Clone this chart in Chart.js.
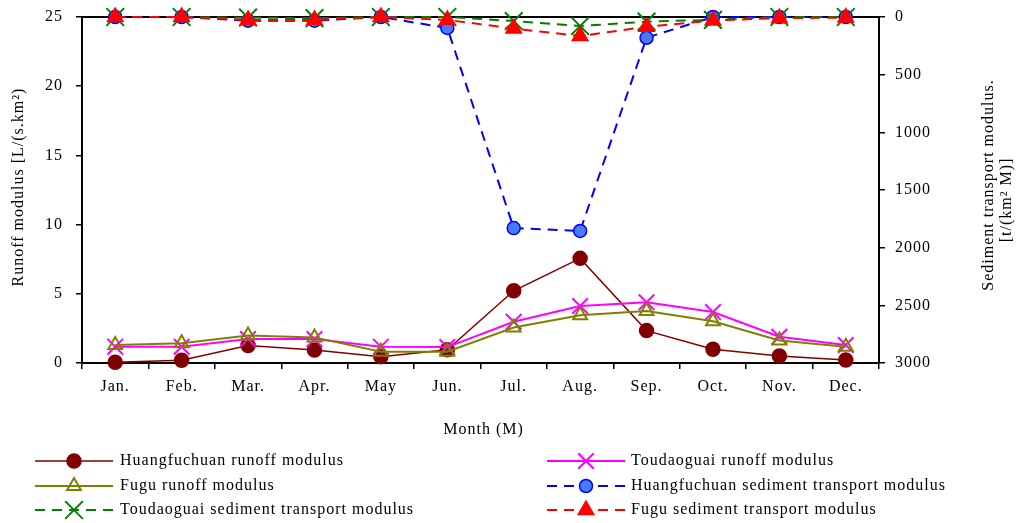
<!DOCTYPE html>
<html>
<head>
<meta charset="utf-8">
<title>Runoff and sediment transport modulus</title>
<script src="https://cdn.jsdelivr.net/npm/chart.js@4/dist/chart.umd.min.js"></script>
<style>
  html, body { margin: 0; padding: 0; background: #fff; }
  canvas { display: block; }
</style>
</head>
<body>
<canvas id="modulusChart" width="1020" height="523"></canvas>
<script>
// months on the x axis
const months = ['Jan.', 'Feb.', 'Mar.', 'Apr.', 'May', 'Jun.', 'Jul.', 'Aug.', 'Sep.', 'Oct.', 'Nov.', 'Dec.'];

// runoff modulus, L/(s.km2) - left axis
const huangfuchuanRunoff = [0.05, 0.2, 1.27, 0.94, 0.46, 0.95, 5.22, 7.56, 2.34, 0.99, 0.5, 0.22];
const toudaoguaiRunoff = [1.18, 1.18, 1.73, 1.73, 1.18, 1.15, 2.98, 4.12, 4.39, 3.68, 1.9, 1.3];
const fuguRunoff = [1.3, 1.42, 1.99, 1.85, 0.82, 0.82, 2.56, 3.45, 3.75, 3.02, 1.62, 1.18];

// sediment transport modulus, t/(km2 M) - right axis (reversed)
const huangfuchuanSediment = [0, 0, 32, 32, 0, 95, 1830, 1855, 180, 0, 0, 0];
const toudaoguaiSediment = [0, 0, 5, 10, 0, 0, 35, 78, 40, 25, 0, 0];
const fuguSediment = [0, 0, 25, 25, 0, 25, 100, 165, 85, 30, 10, 5];

// axis ticks
const runoffTicks = { min: 0, max: 25, step: 5 };
const sedimentTicks = { min: 0, max: 3000, step: 500 };

const xTitle = 'Month (M)';
const leftTitle = 'Runoff modulus [L/(s.km\u00B2)';
const rightTitle = ['Sediment transport modulus.', '[t/(km\u00B2 M)]'];

const FONT_FAMILY = '"Liberation Serif", "Times New Roman", serif';
const tickFont = { family: FONT_FAMILY, size: 16 };

// fixed axis sizes so the plot frame sits where the original one does
function fixSize(size) {
    return function (scale) {
        if (scale.isHorizontal()) scale.height = size; else scale.width = size;
        scale.paddingTop = scale.paddingBottom = scale.paddingLeft = scale.paddingRight = 0;
    };
}

// titles, top frame line and the two-column legend
const decorPlugin = {
    id: 'decor',
    beforeUpdate(chart) { chart.ctx.letterSpacing = '1px'; },
    beforeDraw(chart) { chart.ctx.letterSpacing = '1px'; },
    beforeDatasetsDraw(chart) {
        // top border of the plot frame, under the markers
        const ctx = chart.ctx;
        const area = chart.chartArea;
        ctx.save();
        ctx.strokeStyle = '#000';
        ctx.lineWidth = 2;
        ctx.beginPath();
        ctx.moveTo(area.left - 1, area.top);
        ctx.lineTo(area.right + 1, area.top);
        ctx.stroke();
        ctx.restore();
    },
    afterDraw(chart) {
        const ctx = chart.ctx;
        const area = chart.chartArea;
        ctx.save();
        ctx.letterSpacing = '1px';

        ctx.fillStyle = '#000';
        ctx.font = '16px ' + FONT_FAMILY;
        ctx.textAlign = 'center';
        ctx.textBaseline = 'middle';
        ctx.fillText(xTitle, (area.left + area.right) / 2 + 3, 430);

        function rotated(text, x, y) {
            ctx.save();
            ctx.translate(x, y);
            ctx.rotate(-Math.PI / 2);
            ctx.fillText(text, 0, 0);
            ctx.restore();
        }
        rotated(leftTitle, 19, 187);
        rotated(rightTitle[0], 989, 185);
        rotated(rightTitle[1], 1007, 200);

        // legend, 2 columns
        const cols = [{ x0: 35, x1: 113, text: 120 }, { x0: 547, x1: 625, text: 631 }];
        const rows = [461, 486, 510];
        chart.data.datasets.forEach(function (ds, i) {
            const c = cols[i % 2];
            const y = rows[Math.floor(i / 2)];
            ctx.save();
            ctx.strokeStyle = ds.borderColor;
            ctx.lineWidth = ds.borderWidth;
            ctx.setLineDash(ds.borderDash || []);
            ctx.beginPath();
            ctx.moveTo(c.x0, y);
            ctx.lineTo(c.x1, y);
            ctx.stroke();
            ctx.setLineDash([]);
            ctx.fillStyle = ds.pointBackgroundColor;
            ctx.strokeStyle = ds.pointBorderColor;
            ctx.lineWidth = ds.pointBorderWidth;
            const mx = (c.x0 + c.x1) / 2;
            if (Chart.helpers && Chart.helpers.drawPoint) {
                Chart.helpers.drawPoint(ctx, {
                    pointStyle: ds.pointStyle, radius: ds.pointRadius,
                    rotation: 0, borderWidth: ds.pointBorderWidth
                }, mx, y);
            } else {
                ctx.beginPath();
                ctx.arc(mx, y, ds.pointRadius, 0, Math.PI * 2);
                ctx.fill();
                ctx.stroke();
            }
            ctx.restore();
            ctx.fillStyle = '#000';
            ctx.textAlign = 'left';
            ctx.fillText(ds.label, c.text, y);
        });
        ctx.restore();
    }
};

function series(label, data, axis, color, opts) {
    return Object.assign({
        label: label,
        data: data,
        yAxisID: axis,
        borderColor: color,
        backgroundColor: color,
        pointBackgroundColor: color,
        pointBorderColor: color,
        borderWidth: 2,
        pointBorderWidth: 1.5,
        tension: 0,
        fill: false,
        clip: false
    }, opts);
}

const ctx = document.getElementById('modulusChart').getContext('2d');
const modulusChart = new Chart(ctx, {
    type: 'line',
    data: {
        labels: months,
        datasets: [
            series('Huangfuchuan runoff modulus', huangfuchuanRunoff, 'y', '#800000',
                { pointStyle: 'circle', pointRadius: 7, borderWidth: 1.5, order: 5 }),
            series('Toudaoguai runoff modulus', toudaoguaiRunoff, 'y', '#FF00FF',
                { pointStyle: 'crossRot', pointRadius: 11, pointBorderWidth: 2, order: 4 }),
            series('Fugu runoff modulus', fuguRunoff, 'y', '#808000',
                { pointStyle: 'triangle', pointRadius: 8, pointBackgroundColor: 'rgba(255,255,255,0)', pointBorderWidth: 2, order: 3 }),
            series('Huangfuchuan sediment transport modulus', huangfuchuanSediment, 'y1', '#0000FF',
                { pointStyle: 'circle', pointRadius: 6.5, pointBackgroundColor: '#4A7BFF', borderDash: [10, 7], order: 2 }),
            series('Toudaoguai sediment transport modulus', toudaoguaiSediment, 'y1', '#008000',
                { pointStyle: 'crossRot', pointRadius: 12.5, pointBorderWidth: 2, borderDash: [10, 7], order: 1 }),
            series('Fugu sediment transport modulus', fuguSediment, 'y1', '#FF0000',
                { pointStyle: 'triangle', pointRadius: 9, borderDash: [10, 7], order: 0 })
        ]
    },
    options: {
        responsive: false,
        animation: false,
        layout: { autoPadding: false, padding: { top: 17, left: 0, right: 0, bottom: 0 } },
        plugins: {
            legend: { display: false },
            tooltip: { enabled: false }
        },
        scales: {
            x: {
                offset: true,
                grid: { offset: true, drawOnChartArea: false, color: '#000', lineWidth: 1.5, tickLength: 6 },
                border: { color: '#000', width: 2 },
                ticks: { color: '#000', font: tickFont, padding: 8, maxRotation: 0, autoSkip: false },
                afterFit: fixSize(160)
            },
            y: {
                position: 'left',
                min: runoffTicks.min,
                max: runoffTicks.max,
                grid: { drawOnChartArea: false, color: '#000', lineWidth: 1.5, tickLength: 6 },
                border: { color: '#000', width: 2 },
                ticks: { stepSize: runoffTicks.step, color: '#000', font: tickFont, padding: 13,
                    callback: v => String(v) },
                afterFit: fixSize(82)
            },
            y1: {
                position: 'right',
                reverse: true,
                min: sedimentTicks.min,
                max: sedimentTicks.max,
                grid: { drawOnChartArea: false, color: '#000', lineWidth: 1.5, tickLength: 6 },
                border: { color: '#000', width: 2 },
                ticks: { stepSize: sedimentTicks.step, color: '#000', font: tickFont, padding: 10,
                    callback: v => String(v) },
                afterFit: fixSize(141)
            }
        }
    },
    plugins: [decorPlugin]
});
</script>
</body>
</html>
